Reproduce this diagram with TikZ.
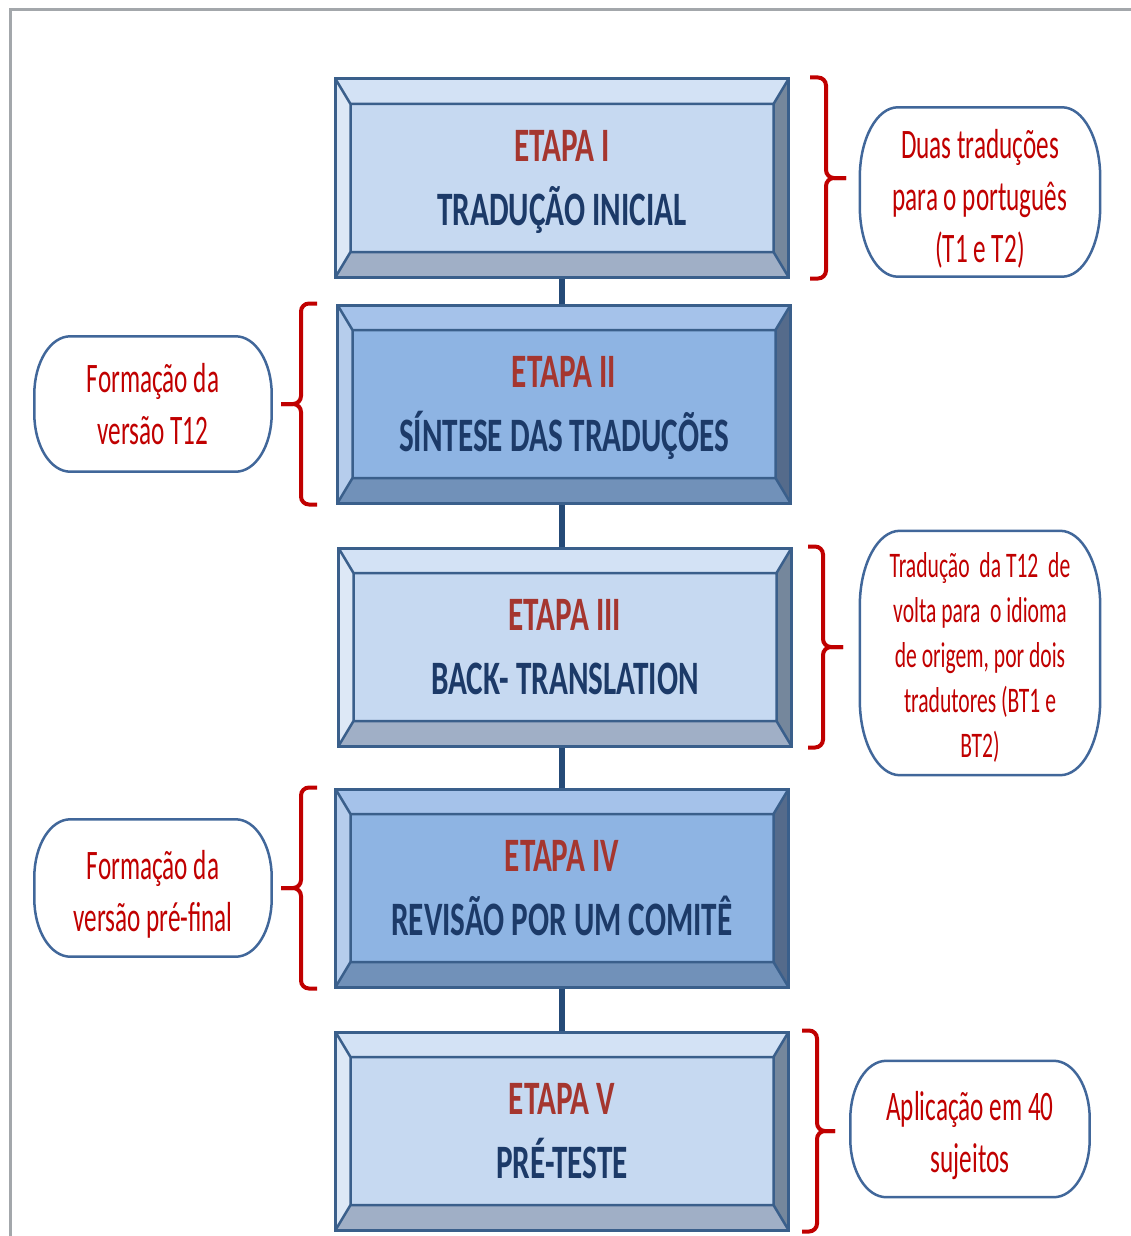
\documentclass[tikz,border=0pt]{standalone}
\usepackage{fontspec}
\setmainfont{Carlito}
\usepackage{graphicx}
\usetikzlibrary{calc}

\definecolor{edgeblue}{HTML}{3A5F8B}
\definecolor{lightface}{HTML}{C6D9F1}
\definecolor{lighttop}{HTML}{D3E2F5}
\definecolor{lightleft}{HTML}{DDE8F6}
\definecolor{lightbot}{HTML}{A0AFC6}
\definecolor{lightright}{HTML}{75879C}
\definecolor{darkface}{HTML}{8EB4E3}
\definecolor{darktop}{HTML}{A5C2EA}
\definecolor{darkleft}{HTML}{B6CDEC}
\definecolor{darkbot}{HTML}{7191B9}
\definecolor{darkright}{HTML}{556B8B}
\definecolor{etapared}{HTML}{A5362F}
\definecolor{titlenavy}{HTML}{1C3A68}
\definecolor{notered}{HTML}{C00000}
\definecolor{noteblue}{HTML}{41679A}
\definecolor{linkblue}{HTML}{254A77}
\definecolor{framegray}{HTML}{A3A7AB}

% narrow the text the way the figure shows it
\newcommand{\sqz}[2][0.6]{\scalebox{#1}[1]{#2}}
% two lines of a stage box
\newcommand{\stage}[2]{\rule{0pt}{43pt}\textcolor{etapared}{\sqz[0.65]{#1}}\\\rule[-12pt]{0pt}{12pt}\sqz[0.65]{#2}}
% outline with elliptic corners round a note node
\newcommand{\capsule}[3]{%
  \draw[noteline] ([xshift=#2]#1.north west) -- ([xshift=-#2]#1.north east)
    arc[start angle=90, end angle=0, x radius=#2, y radius=#3]
    -- ([yshift=#3]#1.south east)
    arc[start angle=0, end angle=-90, x radius=#2, y radius=#3]
    -- ([xshift=#2]#1.south west)
    arc[start angle=270, end angle=180, x radius=#2, y radius=#3]
    -- ([yshift=-#3]#1.north west)
    arc[start angle=180, end angle=90, x radius=#2, y radius=#3] -- cycle;}

\tikzset{
  etapa/.style={draw=edgeblue, line width=3pt, fill=#1face,
    minimum width=453pt, minimum height=198pt, inner sep=0pt,
    align=center, text=titlenavy, font=\fontsize{48}{64}\selectfont\bfseries,
    path picture={
      \coordinate (pa) at (path picture bounding box.north west);
      \coordinate (pb) at (path picture bounding box.north east);
      \coordinate (pc) at (path picture bounding box.south east);
      \coordinate (pd) at (path picture bounding box.south west);
      \coordinate (qa) at ([shift={(15pt,-25pt)}]pa);
      \coordinate (qb) at ([shift={(-15pt,-25pt)}]pb);
      \coordinate (qc) at ([shift={(-15pt,25pt)}]pc);
      \coordinate (qd) at ([shift={(15pt,25pt)}]pd);
      \fill[#1top] (pa) -- (pb) -- (qb) -- (qa) -- cycle;
      \fill[#1right] (pb) -- (pc) -- (qc) -- (qb) -- cycle;
      \fill[#1bot] (pc) -- (pd) -- (qd) -- (qc) -- cycle;
      \fill[#1left] (pd) -- (pa) -- (qa) -- (qd) -- cycle;
      \draw[edgeblue, line width=2.5pt] (qa) rectangle (qc)
        (pa) -- (qa) (pb) -- (qb) (pc) -- (qc) (pd) -- (qd);
    }},
  note/.style={inner sep=0pt, align=center, text=notered,
    font=\fontsize{42}{52}\selectfont},
  noteline/.style={draw=noteblue, line width=2.5pt},
  brace/.style={draw=notered, line width=4pt, rounded corners=8pt},
  link/.style={draw=linkblue, line width=6pt}
}

\begin{document}
\begin{tikzpicture}[x=1pt, y=-1pt]
  \useasboundingbox (0,0) rectangle (1131,1236);
  \draw[framegray, line width=3pt] (10,1236) -- (10,10) -- (1131,10);

  % the five stages
  \node[etapa=light] (e1) at (562,178) {\stage{ETAPA I}{TRADUÇÃO INICIAL}};
  \node[etapa=dark] (e2) at (564,404) {\stage{ETAPA II}{SÍNTESE DAS TRADUÇÕES}};
  \node[etapa=light] (e3) at (565,647) {\stage{ETAPA III}{BACK- TRANSLATION}};
  \node[etapa=dark] (e4) at (562,888) {\stage{ETAPA IV}{REVISÃO POR UM COMITÊ}};
  \node[etapa=light] (e5) at (562,1131) {\stage{ETAPA V}{PRÉ-TESTE}};

  \draw[link] (e1.south) -- (e1.south |- e2.north);
  \draw[link] (e1.south |- e2.south) -- (e1.south |- e3.north);
  \draw[link] (e1.south |- e3.south) -- (e1.south |- e4.north);
  \draw[link] (e4.south) -- (e4.south |- e5.north);

  % notes
  \node[note, minimum width=240pt, minimum height=169pt] (n1) at (980,192) {\rule{0pt}{42pt}\sqz{Duas traduções}\\\sqz{para o português}\\\sqz{(T1 e T2)}};
  \node[note, minimum width=237pt, minimum height=135pt] (n2) at (153,404) {\sqz{Formação da}\\\sqz{versão T12}};
  \node[note, minimum width=240pt, minimum height=244pt, font=\fontsize{36}{45}\selectfont] (n3) at (980,653) {\rule{0pt}{34pt}\sqz{Tradução\ \ da T12\ \ de}\\\sqz{volta para\ \ o idioma}\\\sqz{de origem, por dois}\\\sqz{tradutores (BT1 e}\\\sqz{BT2)}};
  \node[note, minimum width=237pt, minimum height=137pt] (n4) at (153,888) {\rule{0pt}{42pt}\sqz{Formação da}\\\sqz{versão pré-final}};
  \node[note, minimum width=239pt, minimum height=136pt] (n5) at (970,1129) {\rule{0pt}{42pt}\sqz{Aplicação em 40}\\\sqz{sujeitos}};

  \capsule{n1}{38pt}{70pt}
  \capsule{n2}{36pt}{58pt}
  \capsule{n3}{40pt}{75pt}
  \capsule{n4}{36pt}{58pt}
  \capsule{n5}{36pt}{58pt}

  % braces
  \draw[brace] ([xshift=20pt]e1.north east) -| ([xshift=36pt]e1.east) -- ++(20,0);
  \draw[brace] ([xshift=20pt]e1.south east) -| ([xshift=36pt]e1.east) -- ++(20,0);
  \draw[brace] ([xshift=-19pt]e2.north west) -| ([xshift=-35pt]e2.west) -- ++(-20,0);
  \draw[brace] ([xshift=-19pt]e2.south west) -| ([xshift=-35pt]e2.west) -- ++(-20,0);
  \draw[brace] ([xshift=15pt]e3.north east) -| ([xshift=30pt]e3.east) -- ++(20,0);
  \draw[brace] ([xshift=15pt]e3.south east) -| ([xshift=30pt]e3.east) -- ++(20,0);
  \draw[brace] ([xshift=-17pt]e4.north west) -| ([xshift=-33pt]e4.west) -- ++(-20,0);
  \draw[brace] ([xshift=-17pt]e4.south west) -| ([xshift=-33pt]e4.west) -- ++(-20,0);
  \draw[brace] ([xshift=12pt]e5.north east) -| ([xshift=27pt]e5.east) -- ++(18,0);
  \draw[brace] ([xshift=12pt]e5.south east) -| ([xshift=27pt]e5.east) -- ++(18,0);
\end{tikzpicture}
\end{document}
